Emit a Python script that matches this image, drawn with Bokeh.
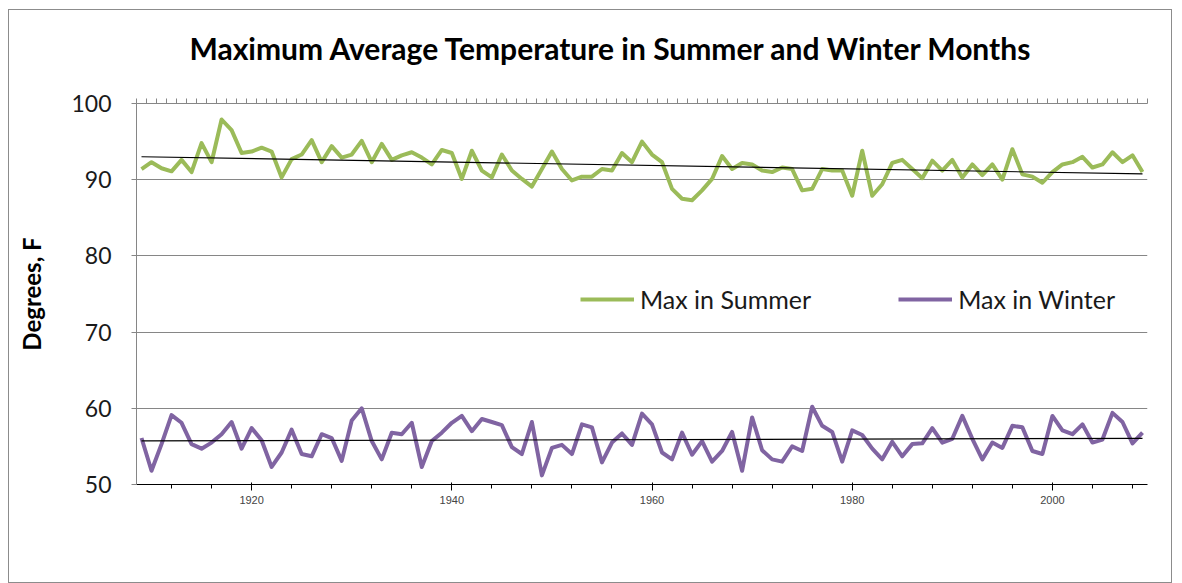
import math
import numpy as np
from bokeh.plotting import figure
from bokeh.models import FixedTicker, Range1d, Legend, LegendItem, BasicTickFormatter, Title, LinearAxis
from bokeh.embed import file_html
from bokeh.resources import INLINE

years = list(range(1909, 2010))
label_years = list(range(1909, 2010, 6))

summer = [
    91.4, 92.3, 91.5, 91.1, 92.6, 91.0, 94.8, 92.3, 97.9, 96.5,
    93.5, 93.7, 94.2, 93.7, 90.3, 92.7, 93.3, 95.2, 92.3, 94.4,
    92.9, 93.3, 95.1, 92.3, 94.7, 92.6, 93.2, 93.6, 92.9, 92.0,
    93.9, 93.5, 90.1, 93.8, 91.2, 90.3, 93.3, 91.2, 90.1, 89.1,
    91.4, 93.7, 91.4, 89.9, 90.4, 90.4, 91.4, 91.2, 93.5, 92.3,
    95.0, 93.3, 92.3, 88.8, 87.5, 87.3, 88.6, 90.1, 93.1, 91.4,
    92.2, 92.0, 91.2, 91.0, 91.6, 91.4, 88.6, 88.8, 91.4, 91.2,
    91.2, 87.9, 93.8, 87.9, 89.4, 92.2, 92.6, 91.4, 90.2, 92.5,
    91.2, 92.6, 90.3, 92.0, 90.6, 92.0, 90.0, 94.0, 90.7, 90.4,
    89.6, 91.0, 92.0, 92.3, 93.0, 91.6, 92.0, 93.6, 92.3, 93.2, 91.0,
]

winter = [
    56.1, 51.8, 55.3, 59.1, 58.1, 55.3, 54.7, 55.5, 56.6, 58.2,
    54.7, 57.4, 55.8, 52.3, 54.2, 57.2, 54.0, 53.7, 56.6, 56.1,
    53.1, 58.4, 60.0, 55.7, 53.3, 56.8, 56.6, 58.1, 52.3, 55.7,
    56.8, 58.1, 59.0, 57.0, 58.6, 58.2, 57.8, 54.9, 54.0, 58.2,
    51.2, 54.8, 55.2, 54.0, 57.9, 57.5, 52.9, 55.5, 56.7, 55.2,
    59.3, 57.9, 54.2, 53.3, 56.8, 53.9, 55.7, 53.0, 54.4, 56.9,
    51.8, 58.8, 54.5, 53.3, 53.0, 55.0, 54.4, 60.2, 57.7, 56.9,
    53.0, 57.1, 56.5, 54.7, 53.3, 55.6, 53.7, 55.3, 55.4, 57.4,
    55.5, 56.0, 59.0, 56.0, 53.3, 55.5, 54.8, 57.7, 57.5, 54.4,
    54.0, 59.0, 57.1, 56.6, 57.9, 55.5, 55.9, 59.4, 58.2, 55.4, 56.8,
]

TITLE = "Maximum Average Temperature in Summer and Winter Months"
FONT = "Lato"
GRID = "#868686"
GREEN = "#9BBB59"
PURPLE = "#8064A2"

p = figure(width=1164, height=574, output_backend="svg", toolbar_location=None,
           x_range=Range1d(1908.5, 2009.5), y_range=Range1d(50, 100),
           min_border_left=127, min_border_right=26, min_border_top=93, min_border_bottom=100)
p.styles = {"border": "1.5px solid #8c8c8c", "margin-left": "8px", "margin-top": "9px"}

# invisible, tick-less axis used only as vertical spacing between frame and title
spacer = LinearAxis(ticker=FixedTicker(ticks=[]), axis_line_color=None,
                    major_tick_line_color=None, minor_tick_line_color=None,
                    major_tick_out=34, major_tick_in=0, minor_tick_out=0, minor_tick_in=0,
                    major_label_standoff=0, major_label_text_alpha=0)
p.add_layout(spacer, "above")
main_title = Title(text=TITLE, text_font=FONT, text_font_style="bold", text_font_size="30px",
                   text_color="#000000", align="left", offset=53, standoff=8)
p.add_layout(main_title, "above")

p.outline_line_color = None
p.xgrid.grid_line_color = None
p.ygrid.grid_line_color = GRID
p.ygrid.grid_line_width = 1

xa = p.xaxis[0]
xa.ticker = FixedTicker(ticks=label_years, minor_ticks=[y - 0.5 for y in years] + [years[-1] + 0.5])
xa.formatter = BasicTickFormatter(use_scientific=False)
xa.major_tick_line_color = None
xa.minor_tick_line_color = GRID
xa.minor_tick_out = 5
xa.minor_tick_in = 0
xa.axis_line_color = GRID
xa.major_label_orientation = math.pi / 4
xa.major_label_text_font = FONT
xa.major_label_text_font_size = "23px"
xa.major_label_text_color = "#1a1a1a"
xa.major_label_standoff = 26

ya = p.yaxis[0]
ya.ticker = FixedTicker(ticks=[50, 60, 70, 80, 90, 100])
ya.axis_line_color = GRID
ya.major_tick_line_color = GRID
ya.major_tick_out = 5
ya.major_tick_in = 0
ya.minor_tick_line_color = None
ya.major_label_text_font = FONT
ya.major_label_text_font_size = "23px"
ya.major_label_text_color = "#1a1a1a"
ya.major_label_standoff = 20
ya.axis_label = "Degrees, F"
ya.axis_label_text_font = FONT
ya.axis_label_text_font_style = "bold"
ya.axis_label_text_font_size = "24px"
ya.axis_label_text_color = "#000000"
ya.axis_label_standoff = 22

r1 = p.line(years, summer, line_color=GREEN, line_width=4, line_join="round")
r2 = p.line(years, winter, line_color=PURPLE, line_width=4, line_join="round")

xs = np.array(years, dtype=float)
for series in (summer, winter):
    k, b = np.polyfit(xs, np.array(series), 1)
    p.line([xs[0], xs[-1]], [k * xs[0] + b, k * xs[-1] + b], line_color="#000000", line_width=1.2)

legend = Legend(items=[LegendItem(label="Max in Summer", renderers=[r1]),
                       LegendItem(label="Max in Winter", renderers=[r2])],
                orientation="horizontal", location=(444, 170),
                border_line_color=None, background_fill_alpha=0,
                padding=0, margin=0, glyph_width=54, label_standoff=6, spacing=87,
                label_text_font=FONT, label_text_font_size="25px", label_text_color="#1a1a1a")
p.add_layout(legend)

open("out.html", "w").write(file_html(p, INLINE))
